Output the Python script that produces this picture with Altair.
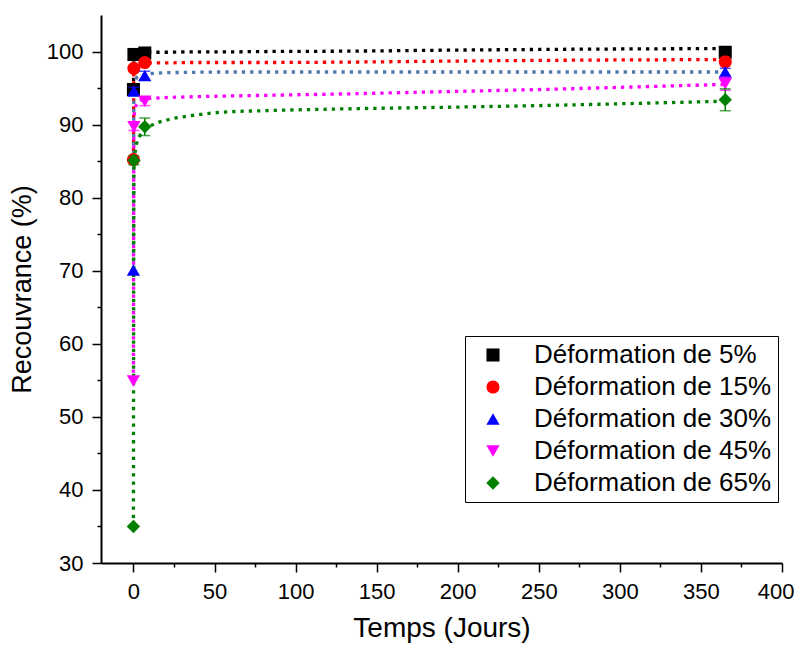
import altair as alt
import pandas as pd

# ---- data ----
series = ["Déformation de 5%", "Déformation de 15%", "Déformation de 30%",
          "Déformation de 45%", "Déformation de 65%"]

pt_t = [0, 0.3, 7, 365]
pt_vals = {
    "Déformation de 5%":  [94.8, 99.6, 99.8, 99.9],
    "Déformation de 15%": [85.2, 97.7, 98.5, 98.6],
    "Déformation de 30%": [70.1, 94.6, 96.7, 97.2],
    "Déformation de 45%": [54.9, 89.7, 93.2, 95.6],
    "Déformation de 65%": [35.0, 85.1, 89.7, 93.4],
}
pt_err = {
    "Déformation de 5%":  [0.0, 0.2, 0.2, 0.3],
    "Déformation de 15%": [0.0, 0.3, 0.3, 0.5],
    "Déformation de 30%": [0.0, 0.5, 0.6, 0.5],
    "Déformation de 45%": [0.0, 0.5, 0.6, 0.9],
    "Déformation de 65%": [0.0, 0.6, 1.2, 1.5],
}

fit_t = [0, 0.3, 1, 2, 4, 7, 12, 20, 35, 55, 80, 130, 200, 260, 300, 365]
fit_vals = {
    "Déformation de 5%":  [94.8, 99.6, 99.75, 99.85, 99.9, 99.9, 99.9, 99.9, 99.95, 99.95, 100.0, 100.05, 100.2, 100.3, 100.35, 100.4],
    "Déformation de 15%": [85.2, 97.4, 97.9, 98.2, 98.4, 98.45, 98.45, 98.45, 98.5, 98.5, 98.5, 98.55, 98.7, 98.8, 98.85, 98.9],
    "Déformation de 30%": [70.1, 95.2, 95.9, 96.4, 96.7, 96.85, 97.0, 97.1, 97.15, 97.2, 97.2, 97.2, 97.2, 97.2, 97.2, 97.2],
    "Déformation de 45%": [54.9, 90.8, 92.0, 92.8, 93.3, 93.5, 93.6, 93.7, 93.8, 93.9, 94.0, 94.2, 94.55, 94.85, 95.1, 95.5],
    "Déformation de 65%": [35.0, 84.0, 86.0, 87.4, 88.5, 89.3, 90.0, 90.6, 91.2, 91.7, 91.9, 92.15, 92.4, 92.65, 92.85, 93.2],
}

x_ticks = [0, 50, 100, 150, 200, 250, 300, 350, 400]
x_minor = [25, 75, 125, 175, 225, 275, 325, 375]
y_ticks = [30, 40, 50, 60, 70, 80, 90, 100]
y_minor = [35, 45, 55, 65, 75, 85, 95]

# ---- styles ----
marker_colors = ["#000000", "#FF0000", "#0000FF", "#FF00FF", "#008000"]
fit_colors = ["#000000", "#FF0000", "#4F79AA", "#FF00FF", "#008000"]
shapes = ["square", "circle", "triangle-up", "triangle-down", "diamond"]
sizes = [170, 180, 225, 225, 260]
FONT = "Liberation Sans"

# ---- tables ----
pts = pd.DataFrame([
    {"series": s, "order": i, "t": t, "v": v, "lo": v - e, "hi": v + e}
    for i, s in enumerate(series)
    for t, v, e in zip(pt_t, pt_vals[s], pt_err[s])
])
errs = pts[pts["hi"] > pts["lo"]]

xs = alt.Scale(domain=[-20, 400], nice=False, zero=False)
ys = alt.Scale(domain=[30, 105], nice=False, zero=False)

X = lambda f: alt.X(f, scale=xs, axis=None)
Y = lambda f: alt.Y(f, scale=ys, axis=None)
col_noleg = alt.Color("series:N", scale=alt.Scale(domain=series, range=marker_colors), legend=None)

# major axes layer
axis_df = pd.DataFrame({"t": [0], "v": [50]})
major = alt.Chart(axis_df).mark_point(opacity=0).encode(
    x=alt.X("t:Q", scale=xs, axis=alt.Axis(values=x_ticks, orient="bottom", title="Temps (Jours)",
                                           grid=False, format="d", tickSize=9, tickWidth=1.5,
                                           domainWidth=2, labelPadding=9, titlePadding=12,
                                           labelFlush=True, labelFlushOffset=12,
                                           titleFontSize=28)),
    y=alt.Y("v:Q", scale=ys, axis=alt.Axis(values=y_ticks, orient="left", title="Recouvrance (%)",
                                           grid=False, format="d", tickSize=9, tickWidth=1.5,
                                           domainWidth=2, labelPadding=9, titlePadding=10,
                                           labelFlush=False, titleFontSize=27)),
)
minor = alt.Chart(axis_df).mark_point(opacity=0).encode(
    x=alt.X("t:Q", scale=xs, axis=alt.Axis(values=x_minor, orient="bottom", labels=False,
                                           domain=False, grid=False, tickSize=4,
                                           tickWidth=1.5, title=None)),
    y=alt.Y("v:Q", scale=ys, axis=alt.Axis(values=y_minor, orient="left", labels=False,
                                           domain=False, grid=False, tickSize=4,
                                           tickWidth=1.5, title=None)),
)

layers = []
for i, s in enumerate(series):
    df = pd.DataFrame({"t": fit_t, "v": fit_vals[s]})
    layers.append(
        alt.Chart(df).mark_line(color=fit_colors[i], strokeWidth=3.3,
                                strokeDash=[3.3, 5], interpolate="monotone")
        .encode(x=X("t:Q"), y=Y("v:Q"))
    )

points = alt.Chart(pts).mark_point(filled=True, opacity=1, strokeWidth=0).encode(
    x=X("t:Q"),
    y=Y("v:Q"),
    color=alt.Color("series:N", scale=alt.Scale(domain=series, range=marker_colors),
                    legend=alt.Legend(title=None)),
    shape=alt.Shape("series:N", scale=alt.Scale(domain=series, range=shapes),
                    legend=alt.Legend(title=None)),
    size=alt.Size("series:N", scale=alt.Scale(domain=series, range=sizes), legend=None),
    order=alt.Order("order:Q"),
)

err_rule = alt.Chart(errs).mark_rule(strokeWidth=1.5).encode(
    x=X("t:Q"), y=Y("lo:Q"), y2="hi:Q", color=col_noleg)
err_lo = alt.Chart(errs).mark_tick(orient="horizontal", size=11, thickness=1.5).encode(
    x=X("t:Q"), y=Y("lo:Q"), color=col_noleg)
err_hi = alt.Chart(errs).mark_tick(orient="horizontal", size=11, thickness=1.5).encode(
    x=X("t:Q"), y=Y("hi:Q"), color=col_noleg)

chart = (
    alt.layer(major, minor, *layers, points, err_rule, err_lo, err_hi)
    .resolve_axis(x="independent", y="independent")
    .properties(width=681, height=548,
                padding={"left": 93, "top": 7, "right": 13, "bottom": 80},
                autosize=alt.AutoSizeParams(type="none"))
    .configure_view(stroke=None)
    .configure_axis(labelFont=FONT, titleFont=FONT, labelFontSize=22,
                    labelColor="black", titleColor="black", domainColor="black",
                    tickColor="black", titleFontWeight="normal")
    .configure_legend(orient="none", legendX=364, legendY=321,
                      strokeColor="black", strokeWidth=1, fillColor="white",
                      padding=6, labelFont=FONT, labelFontSize=26, labelColor="black",
                      labelLimit=0, symbolSize=130, symbolOffset=9, labelOffset=28,
                      rowPadding=6, symbolStrokeWidth=0)
)

chart.save("out.html", embed_options={"renderer": "svg", "actions": False})
